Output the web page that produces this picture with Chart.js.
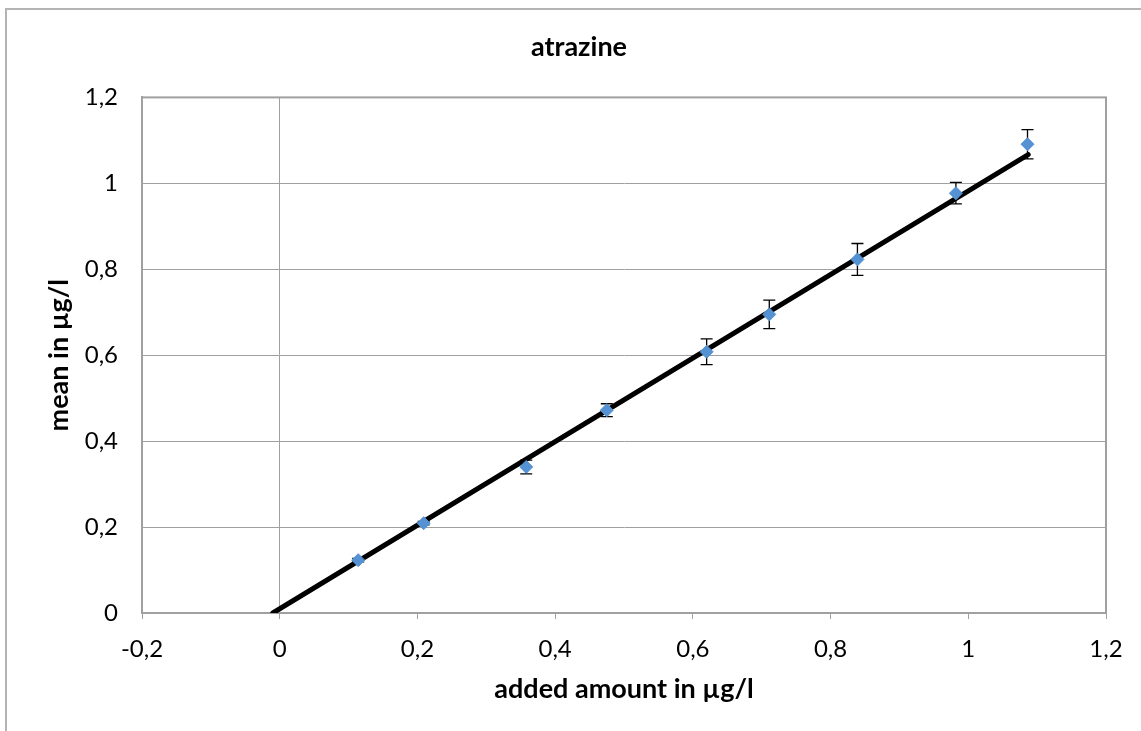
<!DOCTYPE html>
<html>
<head>
<meta charset="utf-8">
<script src="https://cdn.jsdelivr.net/npm/chart.js@4/dist/chart.umd.min.js"></script>
<style>
  body { margin: 0; background: #fff; }
  #frame {
    position: absolute; left: 5px; top: 8px; width: 1200px; height: 760px;
    border-left: 2px solid #b4b4b4; border-top: 2px solid #b4b4b4;
  }
  #myChart { position: absolute; left: 0; top: 0; }
</style>
</head>
<body>
<div id="frame"></div>
<canvas id="myChart" width="1141" height="731"></canvas>
<script>
// * data
const added = [0.114, 0.209, 0.358, 0.475, 0.620, 0.711, 0.839, 0.982, 1.086];
const means = [0.123, 0.209, 0.340, 0.472, 0.608, 0.695, 0.823, 0.977, 1.091];
const errors = [0.004, 0.004, 0.016, 0.015, 0.030, 0.033, 0.037, 0.025, 0.034];

// * linear trendline end points
const trendX = [-0.010, 1.087];
const trendY = [0, 1.067];

const font = "Lato, 'Open Sans', sans-serif";
const gray = "#a0a0a0";

let points = [];
for (let i in added) {
  points.push({ x: added[i], y: means[i] });
}
let trend = [];
for (let i in trendX) {
  trend.push({ x: trendX[i], y: trendY[i] });
}

function fmt(v) {
  if (Math.abs(v) < 1e-9) v = 0;
  return String(Math.round(v * 10) / 10).replace(".", ",");
}

// * error bars, drawn just before the markers
const errorBars = {
  id: "errorBars",
  beforeDatasetDraw(chart, args) {
    if (args.index !== 0) return;
    const ctx = chart.ctx;
    const xs = chart.scales.x;
    const ys = chart.scales.y;
    ctx.save();
    ctx.strokeStyle = "#000";
    ctx.lineWidth = 1.3;
    for (let i in added) {
      const px = xs.getPixelForValue(added[i]);
      const top = ys.getPixelForValue(means[i] + errors[i]);
      const bot = ys.getPixelForValue(means[i] - errors[i]);
      ctx.beginPath();
      ctx.moveTo(px, top);
      ctx.lineTo(px, bot);
      ctx.moveTo(px - 6, top);
      ctx.lineTo(px + 6, top);
      ctx.moveTo(px - 6, bot);
      ctx.lineTo(px + 6, bot);
      ctx.stroke();
    }
    ctx.restore();
  },
};

// * plot area frame
const plotFrame = {
  id: "plotFrame",
  beforeDatasetsDraw(chart) {
    const a = chart.chartArea;
    const ctx = chart.ctx;
    ctx.save();
    ctx.strokeStyle = gray;
    ctx.lineWidth = 2;
    ctx.strokeRect(a.left, a.top, a.right - a.left, a.bottom - a.top);
    ctx.restore();
  },
};

const data = {
  datasets: [
    {
      label: "atrazine",
      data: points,
      backgroundColor: "#5592d3",
      borderColor: "#5592d3",
      pointStyle: "rectRot",
      pointRadius: 6.5,
      pointBorderWidth: 1,
      showLine: false,
    },
    {
      label: "trend",
      data: trend,
      borderColor: "#000",
      borderWidth: 5,
      borderCapStyle: "round",
      pointRadius: 0,
      showLine: true,
    },
  ],
};

let config = {
  type: "scatter",
  data: data,
  plugins: [errorBars, plotFrame],
  options: {
    responsive: false,
    animation: false,
    devicePixelRatio: 1,
    layout: { padding: { left: 52, right: 35, top: 0, bottom: 0 } },
    plugins: {
      legend: { display: false },
      tooltip: { enabled: false },
      title: {
        display: true,
        text: "atrazine",
        color: "#000",
        font: { family: font, size: 27, weight: "bold", lineHeight: 1.2 },
        padding: { top: 31, bottom: 34 },
      },
    },
    scales: {
      x: {
        type: "linear",
        min: -0.2,
        max: 1.2,
        afterFit: (s) => { s.height = 118; },
        ticks: {
          stepSize: 0.2,
          color: "#000",
          padding: 16,
          font: { family: font, size: 24 },
          callback: (v) => fmt(v),
        },
        grid: {
          color: (c) => (Math.abs(c.tick.value) < 1e-9 ? gray : "rgba(0,0,0,0)"),
          lineWidth: 1,
          tickColor: gray,
          tickLength: 6,
        },
        border: { color: gray, width: 2 },
        title: {
          display: true,
          text: "added amount in µg/l",
          color: "#000",
          font: { family: font, size: 27, weight: "bold", lineHeight: 1.2 },
          padding: { top: 0, bottom: 26 },
        },
      },
      y: {
        min: 0,
        max: 1.2,
        afterFit: (s) => { s.width = 90; },
        ticks: {
          stepSize: 0.2,
          color: "#000",
          padding: 24,
          font: { family: font, size: 24 },
          callback: (v) => fmt(v),
        },
        grid: { color: gray, lineWidth: 1, drawTicks: false },
        border: { color: gray, width: 2 },
        title: {
          display: true,
          text: "mean in µg/l",
          color: "#000",
          font: { family: font, size: 27, weight: "bold", lineHeight: 1.2 },
          padding: { top: -9, bottom: 0 },
        },
      },
    },
  },
};

let chart = new Chart("myChart", config);
</script>
</body>
</html>
